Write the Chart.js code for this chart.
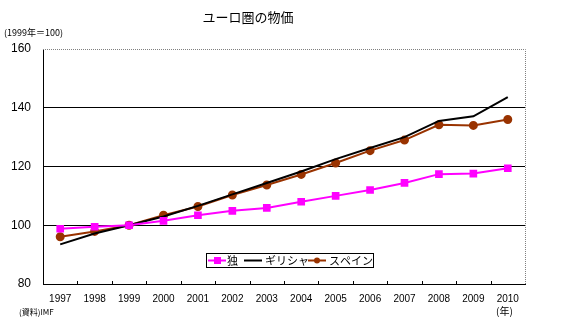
<!DOCTYPE html>
<html>
<head>
<meta charset="utf-8">
<script src="https://cdn.jsdelivr.net/npm/chart.js@4.4.1/dist/chart.umd.min.js"></script>
<style>
  html, body { margin: 0; padding: 0; background: #fff; }
  #wrap { position: relative; width: 566px; height: 326px; }
</style>
</head>
<body>
<div id="wrap"><canvas id="priceChart" width="566" height="326"></canvas></div>
<script>
// 데이터
const years = ["1997", "1998", "1999", "2000", "2001", "2002", "2003", "2004", "2005", "2006", "2007", "2008", "2009", "2010"];
const germany = [98.8, 99.5, 100, 101.5, 103.4, 104.9, 105.9, 108.0, 110.0, 112.0, 114.4, 117.4, 117.6, 119.4];
const greece = [93.5, 97.2, 100, 103.0, 106.6, 110.5, 114.4, 118.3, 122.5, 126.3, 130.0, 135.5, 137.1, 143.6];
const spain = [96.1, 97.9, 100, 103.4, 106.4, 110.3, 113.7, 117.3, 121.2, 125.4, 129.0, 134.2, 134.0, 136.0];
const yTicks = [80, 100, 120, 140, 160];
const seriesNames = ["独", "ギリシャ", "スペイン"];

const jp = "'Noto Sans CJK JP', sans-serif";

// 제목, 주석, 범례를 캔버스에 직접 그림
const decor = {
    id: "decor",
    afterDraw(chart) {
        const c = chart.ctx;
        const a = chart.chartArea;
        const xs = chart.scales.x;
        c.save();
        // 위쪽/오른쪽 점선 테두리
        c.strokeStyle = "#808080";
        c.lineWidth = 1;
        c.setLineDash([1, 1]);
        c.beginPath();
        c.moveTo(a.left, a.top + 0.5);
        c.lineTo(a.right + 0.5, a.top + 0.5);
        c.lineTo(a.right + 0.5, a.bottom);
        c.stroke();
        c.setLineDash([]);
        // x축 눈금 (안쪽)
        c.strokeStyle = "#000";
        const step = xs.width / years.length;
        for (let i = 1; i < years.length; i++) {
            const x = Math.round(a.left + step * i) + 0.5;
            c.beginPath();
            c.moveTo(x, a.bottom);
            c.lineTo(x, a.bottom - 3);
            c.stroke();
        }
        // 텍스트
        c.fillStyle = "#000";
        c.textBaseline = "middle";
        c.textAlign = "center";
        c.font = "13px " + jp;
        c.fillText("ユーロ圏の物価", 248, 17);
        c.textAlign = "left";
        c.font = "9px " + jp;
        c.fillText("(1999年＝100)", 4, 33);
        c.font = "10px " + jp;
        c.fillText("(年)", 496, 311);
        c.font = "8px " + jp;
        c.fillText("(資料)IMF", 19, 312);

        // 범례
        const lx = 206, ly = 253, lw = 167, lh = 14;
        c.fillStyle = "#fff";
        c.fillRect(lx, ly, lw, lh);
        c.strokeStyle = "#000";
        c.lineWidth = 1;
        c.strokeRect(lx + 0.5, ly + 0.5, lw, lh);
        const cy = ly + lh / 2 + 0.5;
        const items = [
            { x: 208, tx: 227, color: "#FF00FF", marker: "rect" },
            { x: 244, tx: 265, color: "#000000", marker: null },
            { x: 308, tx: 329, color: "#993300", marker: "circle" }
        ];
        c.font = "11px " + jp;
        items.forEach((it, i) => {
            c.strokeStyle = it.color;
            c.lineWidth = 2;
            c.beginPath();
            c.moveTo(it.x, cy);
            c.lineTo(it.x + 18, cy);
            c.stroke();
            c.fillStyle = it.color;
            if (it.marker === "rect") {
                c.fillRect(it.x + 6, cy - 3.5, 7, 7);
            } else if (it.marker === "circle") {
                c.beginPath();
                c.arc(it.x + 9, cy, 3, 0, Math.PI * 2);
                c.fill();
            }
            c.fillStyle = "#000";
            c.fillText(seriesNames[i], it.tx, cy);
        });
        c.restore();
    }
};

const ctx = document.getElementById("priceChart").getContext("2d");
new Chart(ctx, {
    type: "line",
    data: {
        labels: years,
        datasets: [
            {
                label: seriesNames[0],
                data: germany,
                borderColor: "#FF00FF",
                backgroundColor: "#FF00FF",
                borderWidth: 2,
                pointStyle: "rect",
                pointRadius: 4,
                pointHoverRadius: 4
            },
            {
                label: seriesNames[1],
                data: greece,
                borderColor: "#000000",
                backgroundColor: "#000000",
                borderWidth: 2,
                pointRadius: 0
            },
            {
                label: seriesNames[2],
                data: spain,
                borderColor: "#993300",
                backgroundColor: "#993300",
                borderWidth: 2,
                pointStyle: "circle",
                pointRadius: 3.5,
                pointHoverRadius: 3.5
            }
        ]
    },
    options: {
        responsive: false,
        animation: false,
        layout: { padding: { left: 0, right: 41, top: 49, bottom: 0 } },
        plugins: {
            legend: { display: false },
            tooltip: { enabled: false }
        },
        scales: {
            x: {
                offset: true,
                grid: { display: false },
                border: { display: true, color: "#000", width: 1 },
                ticks: {
                    color: "#000",
                    font: { family: "Arial, 'Liberation Sans', sans-serif", size: 10 },
                    maxRotation: 0,
                    autoSkip: false,
                    padding: 1
                },
                afterFit(s) { s.height = 42; }
            },
            y: {
                min: 80,
                max: 160,
                afterBuildTicks(s) { s.ticks = yTicks.map(v => ({ value: v })); },
                grid: {
                    drawTicks: false,
                    color: c => (c.tick && (c.tick.value === 160 || c.tick.value === 80)) ? "transparent" : "#000",
                    lineWidth: 1
                },
                border: { display: true, color: "#000", width: 1 },
                ticks: {
                    color: "#000",
                    font: { family: "Arial, 'Liberation Sans', sans-serif", size: 12 },
                    padding: 12
                },
                afterFit(s) { s.width = 43; }
            }
        }
    },
    plugins: [decor]
});
</script>
</body>
</html>
